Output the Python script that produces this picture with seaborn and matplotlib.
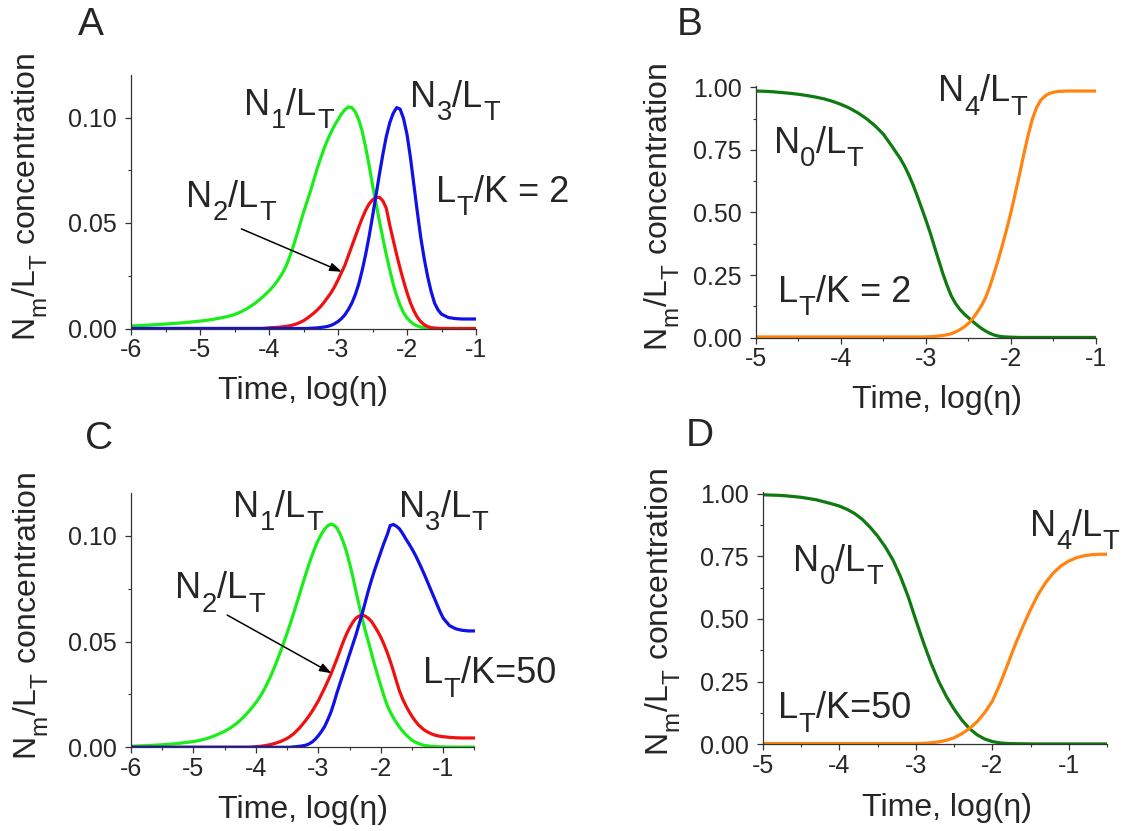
import numpy as np
import pandas as pd
import matplotlib
matplotlib.use("Agg")
import matplotlib.pyplot as plt
from matplotlib.ticker import MultipleLocator, FormatStrFormatter
from matplotlib.transforms import offset_copy
import seaborn as sns

# Deeper, slightly larger subscripts for the mathtext axis labels
try:
    from matplotlib import _mathtext
    _mathtext.FontConstantsBase.sub1 = 0.72
    _mathtext.FontConstantsBase.subdrop = 0.72
    _mathtext.SHRINK_FACTOR = 0.76
except Exception:
    pass

sns.set_style("ticks")
plt.rcParams["font.family"] = ["Liberation Sans", "DejaVu Sans"]
plt.rcParams["mathtext.fontset"] = "custom"
plt.rcParams["mathtext.rm"] = "Liberation Sans"
plt.rcParams["axes.unicode_minus"] = False

# ---------------- Panel A: intermediates, L_T/K = 2 ----------------
x_a = [-6.0, -5.75, -5.5, -5.25, -5.0, -4.9, -4.8, -4.7, -4.6, -4.5, -4.4, -4.3, -4.2, -4.1,
       -4.0, -3.95, -3.9, -3.85, -3.8, -3.75, -3.7, -3.65, -3.6, -3.55, -3.5, -3.45,
       -3.4, -3.35, -3.3, -3.25, -3.2, -3.15, -3.1, -3.05, -3.0, -2.95, -2.9, -2.85,
       -2.8, -2.75, -2.7, -2.65, -2.6, -2.55, -2.5, -2.45, -2.4, -2.35, -2.3, -2.25,
       -2.2, -2.15, -2.1, -2.05, -2.0, -1.95, -1.9, -1.85, -1.8, -1.75, -1.7, -1.65,
       -1.6, -1.55, -1.5, -1.4, -1.3, -1.2, -1.1, -1.0]
n1_a = [0.0012, 0.0016, 0.0021, 0.0027, 0.0035, 0.0039, 0.0044, 0.005, 0.0057, 0.0066,
        0.008, 0.0098, 0.012, 0.0147,
        0.0178, 0.0196, 0.0216, 0.0239, 0.0265, 0.0298, 0.034, 0.0388, 0.044, 0.0495, 0.055, 0.060,
        0.065, 0.0705, 0.076, 0.0808, 0.0855, 0.0895, 0.093, 0.0963, 0.099, 0.1017, 0.1037, 0.105,
        0.1047, 0.1027, 0.099, 0.0935, 0.086, 0.0775, 0.068, 0.0595, 0.051, 0.0428, 0.035, 0.0278,
        0.021, 0.0155, 0.011, 0.0075, 0.005, 0.0033, 0.002, 0.0012, 0.0007, 0.0004, 0.0002, 0.0001,
        0.0, 0.0, 0.0, 0.0, 0.0, 0.0, 0.0, 0.0]
n2_a = [0.0, 0.0, 0.0, 0.0, 0.0, 0.0, 0.0, 0.0, 0.0, 0.0, 0.0, 0.0, 0.0, 0.0,
        0.0003, 0.0004, 0.0005, 0.0006, 0.0008, 0.001, 0.0013, 0.0017, 0.0022, 0.0029, 0.0037, 0.0048,
        0.006, 0.0073, 0.0088, 0.0105, 0.0125, 0.0147, 0.017, 0.0198, 0.023, 0.0265, 0.030, 0.0345,
        0.039, 0.0435, 0.048, 0.0522, 0.056, 0.059, 0.061, 0.062, 0.0622, 0.0605, 0.057, 0.049,
        0.042, 0.035, 0.0285, 0.0225, 0.017, 0.0122, 0.0083, 0.0053, 0.0032, 0.0018, 0.0009, 0.0004,
        0.0002, 0.0001, 0.0, 0.0, 0.0, 0.0, 0.0, 0.0]
n3_a = [0.0, 0.0, 0.0, 0.0, 0.0, 0.0, 0.0, 0.0, 0.0, 0.0, 0.0, 0.0, 0.0, 0.0,
        0.0, 0.0, 0.0, 0.0, 0.0, 0.0, 0.0, 0.0, 0.0, 0.0, 0.0, 0.0,
        0.0001, 0.0002, 0.0003, 0.0005, 0.0007, 0.001, 0.0015, 0.0023, 0.0033, 0.0047, 0.0065, 0.009,
        0.012, 0.016, 0.021, 0.0275, 0.035, 0.0435, 0.053, 0.063, 0.073, 0.0825, 0.091, 0.0975,
        0.102, 0.1047, 0.104, 0.0995, 0.092, 0.081, 0.068, 0.0552, 0.043, 0.033, 0.0245, 0.0175,
        0.012, 0.0088, 0.0068, 0.0052, 0.0047, 0.0045, 0.0045, 0.0045]

# ---------------- Panel B: end states, L_T/K = 2 ----------------
x_b = [-5.0, -4.9, -4.8, -4.7, -4.6, -4.5, -4.4, -4.3, -4.2, -4.1, -4.0, -3.9, -3.8, -3.7,
       -3.6, -3.5, -3.4, -3.3,
       -3.25, -3.2, -3.15, -3.1, -3.05, -3.0, -2.95, -2.9, -2.85, -2.8, -2.75, -2.7, -2.65,
       -2.6, -2.55, -2.5, -2.45, -2.4, -2.35, -2.3, -2.25, -2.2, -2.15, -2.1, -2.05, -2.0,
       -1.95, -1.9, -1.85, -1.8, -1.75, -1.7, -1.65, -1.6, -1.55, -1.5, -1.45, -1.4, -1.35,
       -1.3, -1.2, -1.1, -1.0]
n0_b = [0.985, 0.984, 0.982, 0.979, 0.976, 0.972, 0.967, 0.961, 0.954, 0.944, 0.932, 0.917,
        0.898, 0.875, 0.847, 0.813, 0.765, 0.715,
        0.685, 0.650, 0.610, 0.565, 0.518, 0.470, 0.420, 0.365, 0.310, 0.256, 0.208, 0.166, 0.136,
        0.113, 0.095, 0.080, 0.065, 0.051, 0.038, 0.027, 0.018, 0.011, 0.0065, 0.004, 0.0028, 0.002,
        0.0015, 0.001, 0.001, 0.001, 0.001, 0.001, 0.001, 0.001, 0.001, 0.001, 0.001, 0.001, 0.001,
        0.001, 0.001, 0.001, 0.001]
n4_b = [0.003, 0.003, 0.003, 0.003, 0.003, 0.003, 0.003, 0.003, 0.003, 0.003, 0.003, 0.003,
        0.003, 0.003, 0.003, 0.003, 0.003, 0.003,
        0.003, 0.003, 0.003, 0.003, 0.003, 0.0035, 0.004, 0.005, 0.0068, 0.009, 0.012, 0.016, 0.023,
        0.032, 0.043, 0.057, 0.076, 0.100, 0.126, 0.158, 0.203, 0.255, 0.310, 0.370, 0.433, 0.500,
        0.575, 0.650, 0.730, 0.805, 0.870, 0.918, 0.948, 0.965, 0.975, 0.980, 0.983, 0.984, 0.985,
        0.985, 0.985, 0.985, 0.985]

# ---------------- Panel C: intermediates, L_T/K = 50 ----------------
x_c = [-6.0, -5.75, -5.5, -5.25, -5.0, -4.9, -4.8, -4.7, -4.6, -4.5, -4.4, -4.3, -4.2, -4.1,
       -4.0, -3.95, -3.9, -3.85, -3.8, -3.75, -3.7, -3.65, -3.6, -3.55, -3.5, -3.45,
       -3.4, -3.35, -3.3, -3.25, -3.2, -3.15, -3.1, -3.05, -3.0, -2.95, -2.9, -2.85,
       -2.8, -2.75, -2.7, -2.65, -2.6, -2.55, -2.5, -2.45, -2.4, -2.35, -2.3, -2.25,
       -2.2, -2.15, -2.1, -2.05, -2.0, -1.95, -1.9, -1.85, -1.8, -1.75, -1.7, -1.65,
       -1.6, -1.55, -1.5, -1.45, -1.4, -1.35, -1.3, -1.25, -1.2, -1.15, -1.1, -1.05,
       -1.0, -0.9, -0.8, -0.7, -0.6, -0.5]
n1_c = [0.0005, 0.0008, 0.0012, 0.0018, 0.0027, 0.0033, 0.004, 0.005, 0.0062, 0.0076,
        0.0093, 0.0115, 0.0142, 0.0174,
        0.0211, 0.0232, 0.0256, 0.0283, 0.0313, 0.0346, 0.0381, 0.0418, 0.0457, 0.0498, 0.054, 0.0584,
        0.063, 0.0677, 0.0725, 0.0773, 0.082, 0.0866, 0.0908, 0.0947, 0.098, 0.1008, 0.1031, 0.1047,
        0.1055, 0.1050, 0.1035, 0.1007, 0.097, 0.0925, 0.087, 0.0808, 0.074, 0.0675, 0.061, 0.0553,
        0.050, 0.0445, 0.039, 0.034, 0.029, 0.0243, 0.020, 0.0168, 0.014, 0.0117, 0.0095, 0.0076,
        0.006, 0.0046, 0.0033, 0.0025, 0.0018, 0.0013, 0.0009, 0.0007, 0.0005, 0.0004, 0.0003, 0.0002,
        0.0002, 0.0001, 0.0001, 0.0001, 0.0001, 0.0001]
n2_c = [0.0, 0.0, 0.0, 0.0, 0.0, 0.0, 0.0, 0.0, 0.0, 0.0, 0.0, 0.0, 0.0, 0.0,
        0.0003, 0.0004, 0.0006, 0.0008, 0.0011, 0.0014, 0.0018, 0.0023, 0.0028, 0.0035, 0.0042, 0.0052,
        0.0063, 0.0077, 0.0092, 0.011, 0.0128, 0.0148, 0.017, 0.0195, 0.022, 0.025, 0.028, 0.0312,
        0.0345, 0.0383, 0.042, 0.046, 0.050, 0.0535, 0.0565, 0.059, 0.061, 0.062, 0.0625, 0.062,
        0.061, 0.0595, 0.0572, 0.0548, 0.052, 0.0487, 0.045, 0.0408, 0.0362, 0.0312, 0.0265, 0.0228,
        0.0197, 0.017, 0.0146, 0.0125, 0.0107, 0.0093, 0.0081, 0.0072, 0.0065, 0.0059, 0.0055, 0.0052,
        0.005, 0.0047, 0.0045, 0.0044, 0.0044, 0.0044]
n3_c = [0.0, 0.0, 0.0, 0.0, 0.0, 0.0, 0.0, 0.0, 0.0, 0.0, 0.0, 0.0, 0.0, 0.0,
        0.0, 0.0, 0.0, 0.0, 0.0, 0.0, 0.0, 0.0, 0.0, 0.0, 0.0, 0.0,
        0.0002, 0.0003, 0.0005, 0.0007, 0.001, 0.0016, 0.0025, 0.0038, 0.0055, 0.0075, 0.0098, 0.013,
        0.0165, 0.021, 0.026, 0.0305, 0.035, 0.0395, 0.044, 0.0485, 0.053, 0.058, 0.063, 0.0685,
        0.074, 0.079, 0.0837, 0.088, 0.0923, 0.0965, 0.1003, 0.1048, 0.1053, 0.1045, 0.1032, 0.1010,
        0.0985, 0.0962, 0.0937, 0.091, 0.088, 0.0848, 0.0815, 0.078, 0.0745, 0.071, 0.0675, 0.064,
        0.061, 0.0575, 0.056, 0.0553, 0.055, 0.055]

# ---------------- Panel D: end states, L_T/K = 50 ----------------
x_d = [-5.0, -4.9, -4.8, -4.7, -4.6, -4.5, -4.4, -4.3, -4.2, -4.1,
       -4.0, -3.9, -3.8, -3.7, -3.6, -3.5, -3.4, -3.3, -3.2, -3.1,
       -3.0, -2.9, -2.8, -2.7, -2.6, -2.5, -2.4, -2.3, -2.2, -2.1,
       -2.0, -1.9, -1.8, -1.7, -1.6, -1.5, -1.4, -1.3, -1.2, -1.1,
       -1.0, -0.9, -0.8, -0.7, -0.6, -0.5]
n0_d = [0.995, 0.994, 0.993, 0.991, 0.988, 0.985, 0.980, 0.975, 0.967, 0.959,
        0.950, 0.937, 0.920, 0.897, 0.866, 0.830, 0.787, 0.735, 0.668, 0.588,
        0.495, 0.405, 0.322, 0.250, 0.190, 0.140, 0.097, 0.063, 0.038, 0.021,
        0.011, 0.0055, 0.0032, 0.0024, 0.002, 0.0015, 0.0015, 0.0015, 0.0015, 0.0015,
        0.0015, 0.0015, 0.0015, 0.0015, 0.0015, 0.0015]
n4_d = [0.003, 0.003, 0.003, 0.003, 0.003, 0.003, 0.003, 0.003, 0.003, 0.003,
        0.003, 0.003, 0.003, 0.003, 0.003, 0.003, 0.003, 0.003, 0.003, 0.003,
        0.003, 0.004, 0.006, 0.010, 0.016, 0.026, 0.042, 0.063, 0.090, 0.126,
        0.172, 0.240, 0.318, 0.398, 0.470, 0.538, 0.598, 0.646, 0.684, 0.712,
        0.731, 0.744, 0.752, 0.756, 0.758, 0.758]

# Curve labels as (text, is_subscript) runs
label_n0 = [("N", False), ("0", True), ("/L", False), ("T", True)]
label_n1 = [("N", False), ("1", True), ("/L", False), ("T", True)]
label_n2 = [("N", False), ("2", True), ("/L", False), ("T", True)]
label_n3 = [("N", False), ("3", True), ("/L", False), ("T", True)]
label_n4 = [("N", False), ("4", True), ("/L", False), ("T", True)]
label_ratio_2 = [("L", False), ("T", True), ("/K = 2", False)]
label_ratio_50 = [("L", False), ("T", True), ("/K=50", False)]

colors = {"N0": "#0f7a0f", "N1": "#1aee1a", "N2": "#f01010", "N3": "#1010e8",
          "N4": "#ff8410"}


def long_frame(x, series):
    parts = []
    for k, v in series.items():
        assert len(v) == len(x), (k, len(v), len(x))
        parts.append(pd.DataFrame({"logt": x, "conc": v, "species": k}))
    return pd.concat(parts, ignore_index=True)


W, H = 1129, 831
fig = plt.figure(figsize=(W / 100, H / 100), dpi=100)
renderer = fig.canvas.get_renderer()

axA = fig.add_axes([131 / W, 1 - 328.5 / H, 345 / W, 253.2 / H])
axB = fig.add_axes([755.7 / W, 1 - 337.7 / H, 340.3 / W, 251.7 / H])
axC = fig.add_axes([131 / W, 1 - 747.3 / H, 343.5 / W, 253.9 / H])
axD = fig.add_axes([763 / W, 1 - 744.3 / H, 344 / W, 252 / H])

panels = [
    (axA, long_frame(x_a, {"N1": n1_a, "N2": n2_a, "N3": n3_a}), (-6, -1), (0, 0.12), 0.05),
    (axB, long_frame(x_b, {"N0": n0_b, "N4": n4_b}), (-5, -1), (0, 1.005), 0.25),
    (axC, long_frame(x_c, {"N1": n1_c, "N2": n2_c, "N3": n3_c}), (-6, -0.5), (0, 0.12), 0.05),
    (axD, long_frame(x_d, {"N0": n0_d, "N4": n4_d}), (-5, -0.5), (0, 1.005), 0.25),
]

tick_fs = 18
axis_fs = 23
curve_fs = 26

for ax, df, xl, yl, ystep in panels:
    sns.lineplot(data=df, x="logt", y="conc", hue="species", palette=colors,
                 linewidth=2.3, legend=False, errorbar=None, ax=ax)
    for line in ax.lines:
        line.set_solid_joinstyle("round")
    ax.set_xlim(*xl)
    ax.set_ylim(*yl)
    ax.xaxis.set_major_locator(MultipleLocator(1))
    ax.xaxis.set_minor_locator(MultipleLocator(0.5))
    ax.yaxis.set_major_locator(MultipleLocator(ystep))
    ax.yaxis.set_minor_locator(MultipleLocator(ystep / 2))
    ax.xaxis.set_major_formatter(FormatStrFormatter("%d"))
    ax.yaxis.set_major_formatter(FormatStrFormatter("%.2f"))
    for side in ("top", "right"):
        ax.spines[side].set_visible(False)
    for side in ("left", "bottom"):
        ax.spines[side].set_linewidth(0.9)
        ax.spines[side].set_color("#333333")
    ax.tick_params(which="major", direction="out", length=4.5, width=0.9,
                   color="#333333", labelsize=tick_fs, pad=2.5)
    ax.tick_params(axis="y", which="major", pad=5.5)
    ax.tick_params(which="minor", direction="out", length=2.5, width=0.8,
                   color="#333333")
    ax.set_xlabel("Time, log(η)", fontsize=axis_fs, va="center")
    ax.set_ylabel(r"$\mathregular{N_m/L_T}$ concentration", fontsize=axis_fs,
                  va="center")

axA.xaxis.set_label_coords(0.50, -0.247)
axA.yaxis.set_label_coords(-0.293, 0.52)
axB.xaxis.set_label_coords(0.534, -0.2475)
axB.yaxis.set_label_coords(-0.275, 0.519)
axC.xaxis.set_label_coords(0.50, -0.247)
axC.yaxis.set_label_coords(-0.291, 0.517)
axD.xaxis.set_label_coords(0.534, -0.253)
axD.yaxis.set_label_coords(-0.289, 0.525)


def rich_label(ax, x, y, runs, size=curve_fs, sub_scale=0.76, drop=0.37):
    """Write runs of normal/subscript text starting at data point (x, y) on the baseline."""
    px_per_pt = fig.dpi / 72.0
    cursor = 0.0
    for s, is_sub in runs:
        fs = size * sub_scale if is_sub else size
        dy = -drop * size * px_per_pt if is_sub else 0.0
        tr = offset_copy(ax.transData, fig=fig, x=cursor, y=dy, units="dots")
        t = ax.text(x, y, s, fontsize=fs, ha="left", va="baseline", transform=tr)
        cursor += t.get_window_extent(renderer).width + 0.5


arrow = dict(arrowstyle="-|>,head_length=0.7,head_width=0.25", color="black",
             lw=1.1, shrinkA=0, shrinkB=0)

# Panel A annotations
rich_label(axA, -4.362, 0.1012, label_n1)
rich_label(axA, -1.957, 0.1050, label_n3)
rich_label(axA, -5.203, 0.0576, label_n2)
rich_label(axA, -1.580, 0.0600, label_ratio_2)
axA.annotate("", xy=(-2.946, 0.0269), xytext=(-4.40, 0.0472), arrowprops=arrow)

# Panel B annotations
rich_label(axB, -2.858, 0.944, label_n4)
rich_label(axB, -4.790, 0.739, label_n0)
rich_label(axB, -4.738, 0.143, label_ratio_2)

# Panel C annotations
rich_label(axC, -4.368, 0.1090, label_n1)
rich_label(axC, -1.712, 0.1090, label_n3)
rich_label(axC, -5.296, 0.0704, label_n2)
rich_label(axC, -1.328, 0.0302, label_ratio_50)
axC.annotate("", xy=(-2.789, 0.035), xytext=(-4.46, 0.0625), arrowprops=arrow)

# Panel D annotations
rich_label(axD, -4.608, 0.6917, label_n0)
rich_label(axD, -1.510, 0.8306, label_n4)
rich_label(axD, -4.804, 0.1032, label_ratio_50)

# Panel letters
for letter, (fx, fy) in {"A": (91, 25), "B": (690, 25), "C": (99, 439),
                         "D": (700, 436)}.items():
    fig.text(fx / W, 1 - fy / H, letter, fontsize=28, ha="center", va="center")

fig.savefig("out.png", dpi=100)
